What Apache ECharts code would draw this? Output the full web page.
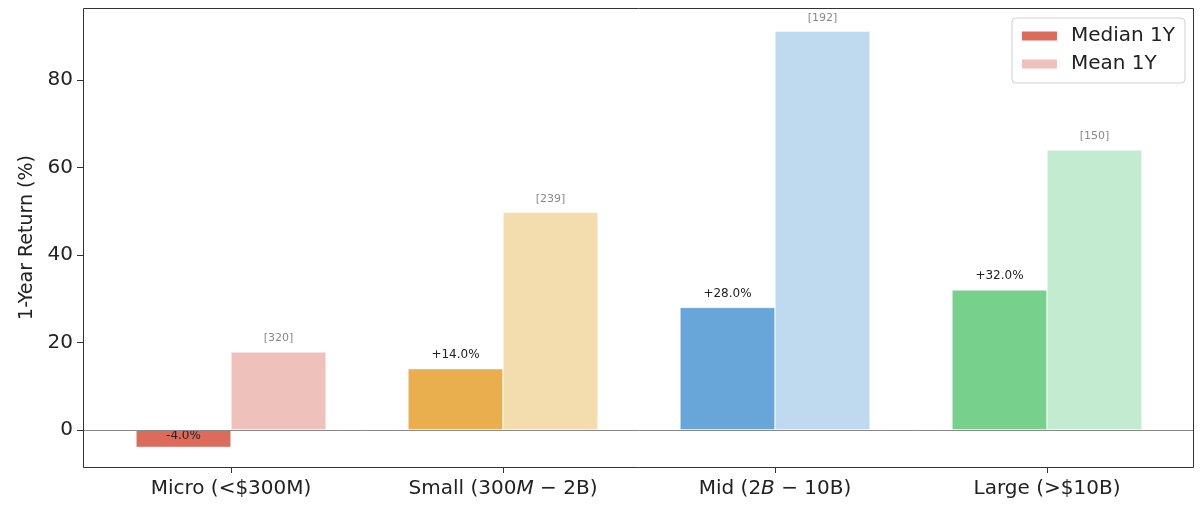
<!DOCTYPE html>
<html>
<head>
<meta charset="utf-8">
<script src="https://cdn.jsdelivr.net/npm/echarts@6/dist/echarts.min.js"></script>
<style>
    html, body { margin: 0; padding: 0; background: #fff; }
    #chart { width: 1200px; height: 518px; }
</style>
</head>
<body>
<div id="chart"></div>
<script>
// 数据
var categories = ['Micro (<$300M)', 'Small (300M − 2B)', 'Mid (2B − 10B)', 'Large (>$10B)'];
var medianReturns = [-4.0, 14.0, 28.0, 32.0];
var meanReturns = [17.8, 49.8, 91.2, 64.0];
var counts = [320, 239, 192, 150];
var medianColors = ['#dc6b5b', '#e9ae4d', '#68a6da', '#77d18d'];
var meanColors = ['#efc1bb', '#f3dcae', '#bfdaef', '#c2ebd0'];

(function(){
    var myChart = echarts.init(document.getElementById('chart'));
    var font = 'DejaVu Sans';

    var medianData = medianReturns.map(function(v, i){
        var item = { value: v, itemStyle: { color: medianColors[i] } };
        if (v < 0) {
            item.label = { position: 'insideTop', distance: 0 };
        }
        return item;
    });
    var meanData = meanReturns.map(function(v, i){
        return { value: v, itemStyle: { color: meanColors[i] } };
    });

    // 边框
    var frame = {
        type: 'rect',
        shape: { x: 83.5, y: 8.5, width: 1110, height: 459 },
        style: { fill: 'none', stroke: '#333', lineWidth: 1 },
        z: 100
    };

    var option = {
        animation: false,
        textStyle: { fontFamily: font },
        grid: {
            left: 95,
            right: 17,
            top: 8,
            bottom: 51
        },
        graphic: [frame],
        legend: {
            orient: 'vertical',
            right: 15,
            top: 18,
            icon: 'rect',
            itemWidth: 37,
            itemHeight: 11,
            itemGap: 8,
            padding: [8, 10, 9, 8],
            borderColor: '#d0d0d0',
            borderWidth: 1,
            borderRadius: 4,
            backgroundColor: '#fff',
            textStyle: { fontSize: 20, color: '#222', fontFamily: font, padding: [0, 0, 0, 8] },
            data: ['Median 1Y', 'Mean 1Y']
        },
        xAxis: {
            type: 'category',
            data: categories,
            axisLine: { show: false, onZero: false },
            axisTick: { show: true, interval: 0, alignWithLabel: true, length: 6, lineStyle: { color: '#333' } },
            axisLabel: {
                interval: 0,
                hideOverlap: false,
                fontSize: 20,
                color: '#222',
                margin: 12,
                formatter: function(v){
                    return v.replace(/(\d+)([MB])( − )/, '$1{i|$2}$3');
                },
                rich: {
                    i: { fontStyle: 'italic', fontSize: 20, color: '#222', fontFamily: font }
                }
            }
        },
        yAxis: {
            type: 'value',
            min: -8.5,
            max: 96.5,
            offset: 12,
            name: '1-Year Return (%)',
            nameLocation: 'middle',
            nameGap: 45,
            nameTextStyle: { fontSize: 19, color: '#222' },
            axisLine: { show: false },
            axisTick: { show: true, length: 6, lineStyle: { color: '#333' } },
            axisLabel: { fontSize: 20, color: '#222', margin: 10, showMinLabel: false, showMaxLabel: false },
            splitLine: { show: false }
        },
        series: [
            {
                name: 'Median 1Y',
                type: 'bar',
                barWidth: 95,
                barGap: '0%',
                itemStyle: { color: medianColors[0], borderColor: '#fff', borderWidth: 0.5 },
                label: {
                    show: true,
                    position: 'top',
                    distance: 8,
                    fontSize: 12,
                    color: '#222',
                    formatter: function(p){
                        return (p.value > 0 ? '+' : '') + p.value.toFixed(1) + '%';
                    }
                },
                data: medianData
            },
            {
                name: 'Mean 1Y',
                type: 'bar',
                barWidth: 95,
                itemStyle: { color: meanColors[0], borderColor: '#fff', borderWidth: 0.5 },
                label: {
                    show: true,
                    position: 'top',
                    distance: 8,
                    fontSize: 11,
                    color: '#888',
                    formatter: function(p){
                        return '[' + counts[p.dataIndex] + ']';
                    }
                },
                data: meanData
            }
        ]
    };
    myChart.setOption(option);

    // 零线 横跨整个绘图区
    var y0 = Math.round(myChart.convertToPixel({ yAxisIndex: 0 }, 0)) + 0.5;
    myChart.setOption({
        graphic: [frame, {
            type: 'line',
            shape: { x1: 84, y1: y0, x2: 1193, y2: y0 },
            style: { stroke: '#888', lineWidth: 1 },
            z: 50
        }]
    });
})();
</script>
</body>
</html>
